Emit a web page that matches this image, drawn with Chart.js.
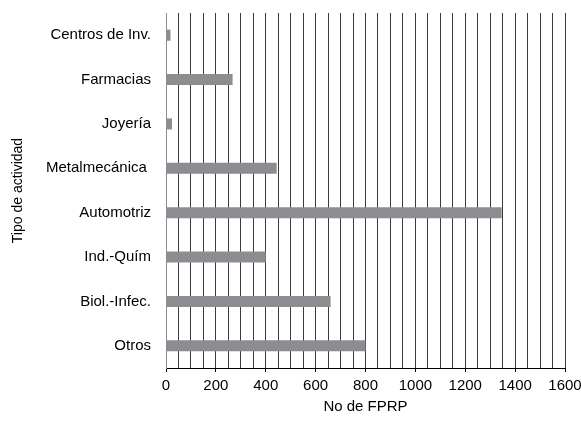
<!DOCTYPE html>
<html>
<head>
<meta charset="utf-8">
<script src="https://cdn.jsdelivr.net/npm/chart.js@4/dist/chart.umd.min.js"></script>
<style>
  html, body { margin: 0; padding: 0; background: #fff; }
  #wrap { width: 581px; height: 433px; }
</style>
</head>
<body>
<div id="wrap"><canvas id="chart" width="581" height="433"></canvas></div>
<script>
// Categories top to bottom.
const categories = ['Centros de Inv.', 'Farmacias', 'Joyería', 'Metalmecánica ', 'Automotriz', 'Ind.-Quím', 'Biol.-Infec.', 'Otros'];
const counts = [18, 267, 24, 444, 1346, 400, 660, 800];
const xMin = 0;
const xMax = 1600;
const xLabelStep = 200;
const xGridStep = 50;

const family = '"Liberation Sans", Arial, sans-serif';
const tickFont = { family: family, size: 15 };

const ctx = document.getElementById('chart').getContext('2d');
new Chart(ctx, {
  type: 'bar',
  data: {
    labels: categories,
    datasets: [{
      data: counts,
      backgroundColor: '#8c8d90',
      borderWidth: 0,
      barPercentage: 0.25,
      categoryPercentage: 1,
    }],
  },
  options: {
    indexAxis: 'y',
    responsive: false,
    animation: false,
    layout: { padding: { top: 13, right: 16, left: 0, bottom: 0 } },
    plugins: { legend: { display: false }, tooltip: { enabled: false } },
    scales: {
      x: {
        min: xMin,
        max: xMax,
        grid: {
          color: '#3a3a3a',
          lineWidth: 1,
          drawTicks: true,
          tickLength: 4,
          tickColor: (c) => (c.tick && c.tick.value % xLabelStep === 0 ? '#000' : 'rgba(0,0,0,0)'),
        },
        border: { display: true, color: '#000', width: 1 },
        ticks: {
          stepSize: xGridStep,
          autoSkip: false,
          maxRotation: 0,
          color: '#000',
          font: tickFont,
          padding: 5,
          callback: (v) => (v % xLabelStep === 0 ? String(v) : ''),
        },
        title: {
          display: true,
          text: 'No de FPRP',
          color: '#000',
          font: { family: family, size: 15 },
          padding: { top: 0, bottom: 17 },
        },
        afterFit: (s) => { s.height = 65; s.paddingLeft = 0; s.paddingRight = 0; },
      },
      y: {
        grid: { display: false, drawTicks: false },
        border: { display: true, color: '#8c8d90', width: 1 },
        ticks: { color: '#000', font: tickFont, padding: 15 },
        title: {
          display: true,
          text: 'Tipo de actividad',
          color: '#000',
          font: { family: family, size: 14 },
          padding: { top: 10, bottom: 0 },
        },
        afterFit: (s) => { s.width = 166; s.paddingTop = 0; s.paddingBottom = 0; },
      },
    },
  },
});
</script>
</body>
</html>
